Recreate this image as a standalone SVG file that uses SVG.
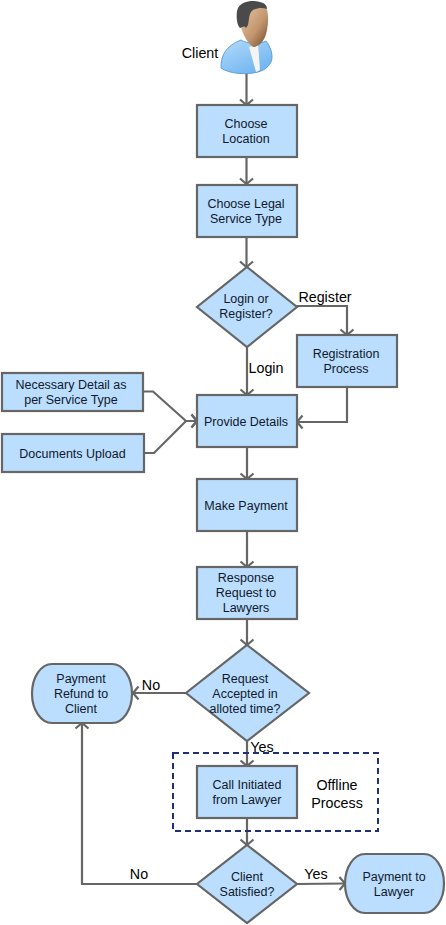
<svg xmlns="http://www.w3.org/2000/svg" width="446" height="925" viewBox="0 0 446 925">
<defs>
<style>
.s{fill:#bbdefe;stroke:#666;stroke-width:2.2}
.c{fill:none;stroke:#666;stroke-width:2.2}
text{font-family:"Liberation Sans",Arial,sans-serif;fill:#000;text-anchor:middle}
.n{font-size:12.500px;fill:#10182a}
.l{font-size:14.300px}
</style>
<marker id="a" markerUnits="userSpaceOnUse" markerWidth="16" markerHeight="16" refX="12" refY="8" orient="auto"><path d="M6.500 1.500L12 8L6.500 14.500" fill="none" stroke="#666" stroke-width="2.2"/></marker>
<linearGradient id="b" x1="0" y1="0" x2="0.7" y2="1"><stop offset="0" stop-color="#b4dcfb"/><stop offset="1" stop-color="#6fb4f0"/></linearGradient>
<linearGradient id="f" x1="0" y1="0" x2="1" y2="1"><stop offset="0" stop-color="#eccdae"/><stop offset="0.6" stop-color="#c2966e"/><stop offset="1" stop-color="#70482a"/></linearGradient>
</defs>
<rect width="446" height="925" fill="#fff"/>
<g id="connectors">
<path class="c" d="M246.500 74V105" marker-end="url(#a)"/>
<path class="c" d="M246.500 157V184" marker-end="url(#a)"/>
<path class="c" d="M246.500 237V267" marker-end="url(#a)"/>
<path class="c" d="M296 306H347V335" marker-end="url(#a)"/>
<path class="c" d="M247 347V395" marker-end="url(#a)"/>
<path class="c" d="M347 387V422H297" marker-end="url(#a)"/>
<path class="c" d="M143 391.500H153L186 421H197" marker-end="url(#a)"/>
<path class="c" d="M144 453H154L186 421H197" marker-end="url(#a)"/>
<path class="c" d="M247 447V479" marker-end="url(#a)"/>
<path class="c" d="M247 531V567" marker-end="url(#a)"/>
<path class="c" d="M247 619V645" marker-end="url(#a)"/>
<path class="c" d="M186 693H133" marker-end="url(#a)"/>
<path class="c" d="M247 741V766" marker-end="url(#a)"/>
<path class="c" d="M247 818V845" marker-end="url(#a)"/>
<path class="c" d="M197 884H82V723" marker-end="url(#a)"/>
<path class="c" d="M297 884L345 883.500" marker-end="url(#a)"/>
</g>
<g id="offline-process">
<rect x="173" y="753" width="205" height="78" fill="none" stroke="#1f2f7a" stroke-width="2" stroke-dasharray="6 4"/>
<text class="l" x="337" y="790">Offline</text><text class="l" x="337" y="808">Process</text>
</g>
<g id="client">
<path d="M221 68C221 55 226 46 241 40C246 44 262 44 266 41C270 46 272 52 272 57C272 64 266 70 258 72C246 75 230 74 221 68Z" fill="url(#b)" stroke="#5ea0d8" stroke-width="1"/>
<path d="M249 47L258 44L260 70L256 72Z" fill="#f4f4f4"/>
<path d="M238 12C241 2 264 2 267 10C269 16 268 30 265 37C262 44 257 47 253 47C246 42 240 30 238 12Z" fill="url(#f)"/>
<path d="M240 28C236 24 236 12 238 8C241 2 250 0 258 1.500C263 2.500 267 4 267 9C262 7 254 8 251 12C249 15 249 20 248 25L246 28C244 25 243 27 240 28Z" fill="#4a4a4a"/>
<text x="200" y="58" style="font-size:14.300px">Client</text>
</g>
<g id="choose-location"><rect class="s" x="197" y="105" width="100" height="52"/><text class="n" x="246" y="128">Choose</text><text class="n" x="246" y="143">Location</text></g>
<g id="choose-legal"><rect class="s" x="197" y="185" width="100" height="52"/><text class="n" x="246" y="208">Choose Legal</text><text class="n" x="246" y="223">Service Type</text></g>
<g id="login-register"><path class="s" d="M247 267L297 307L247 347L197 307Z"/><text class="n" x="246" y="303">Login or</text><text class="n" x="246" y="318">Register?</text></g>
<g id="registration"><rect class="s" x="297" y="335" width="100" height="52"/><text class="n" x="346" y="358">Registration</text><text class="n" x="346" y="373">Process</text></g>
<g id="necessary-detail"><rect class="s" x="2" y="373" width="141" height="38"/><text class="n" x="71" y="389">Necessary Detail as</text><text class="n" x="71" y="404">per Service Type</text></g>
<g id="documents-upload"><rect class="s" x="2" y="434" width="142" height="38"/><text class="n" x="72.500" y="458">Documents Upload</text></g>
<g id="provide-details"><rect class="s" x="197" y="395" width="100" height="52"/><text class="n" x="246" y="426">Provide Details</text></g>
<g id="make-payment"><rect class="s" x="197" y="479" width="100" height="52"/><text class="n" x="246" y="510">Make Payment</text></g>
<g id="response-request"><rect class="s" x="197" y="567" width="100" height="52"/><text class="n" x="246" y="582">Response</text><text class="n" x="246" y="597">Request to</text><text class="n" x="246" y="612">Lawyers</text></g>
<g id="request-accepted"><path class="s" d="M247 645L309 693L247 741L186 693Z"/><text class="n" x="245" y="683">Request</text><text class="n" x="245" y="698">Accepted in</text><text class="n" x="245" y="713">alloted time?</text></g>
<g id="payment-refund"><path class="s" d="M52 664H112A20 29.500 0 0 1 112 723H52A20 29.500 0 0 1 52 664Z"/><text class="n" x="81" y="683">Payment</text><text class="n" x="81" y="698">Refund to</text><text class="n" x="81" y="713">Client</text></g>
<g id="call-initiated"><rect class="s" x="197" y="766" width="100" height="52"/><text class="n" x="247" y="789">Call Initiated</text><text class="n" x="247" y="804">from Lawyer</text></g>
<g id="client-satisfied"><path class="s" d="M247 845L297 884L247 923L197 884Z"/><text class="n" x="247" y="881">Client</text><text class="n" x="247" y="896">Satisfied?</text></g>
<g id="payment-lawyer"><path class="s" d="M365 854H424A20 29.500 0 0 1 424 913H365A20 29.500 0 0 1 365 854Z"/><text class="n" x="394" y="881">Payment to</text><text class="n" x="394" y="896">Lawyer</text></g>
<g id="labels">
<text class="l" x="325" y="302">Register</text>
<text class="l" x="266" y="373">Login</text>
<text class="l" x="151" y="690">No</text>
<text class="l" x="262" y="752">Yes</text>
<text class="l" x="139" y="879">No</text>
<text class="l" x="316" y="879">Yes</text>
</g>
</svg>
